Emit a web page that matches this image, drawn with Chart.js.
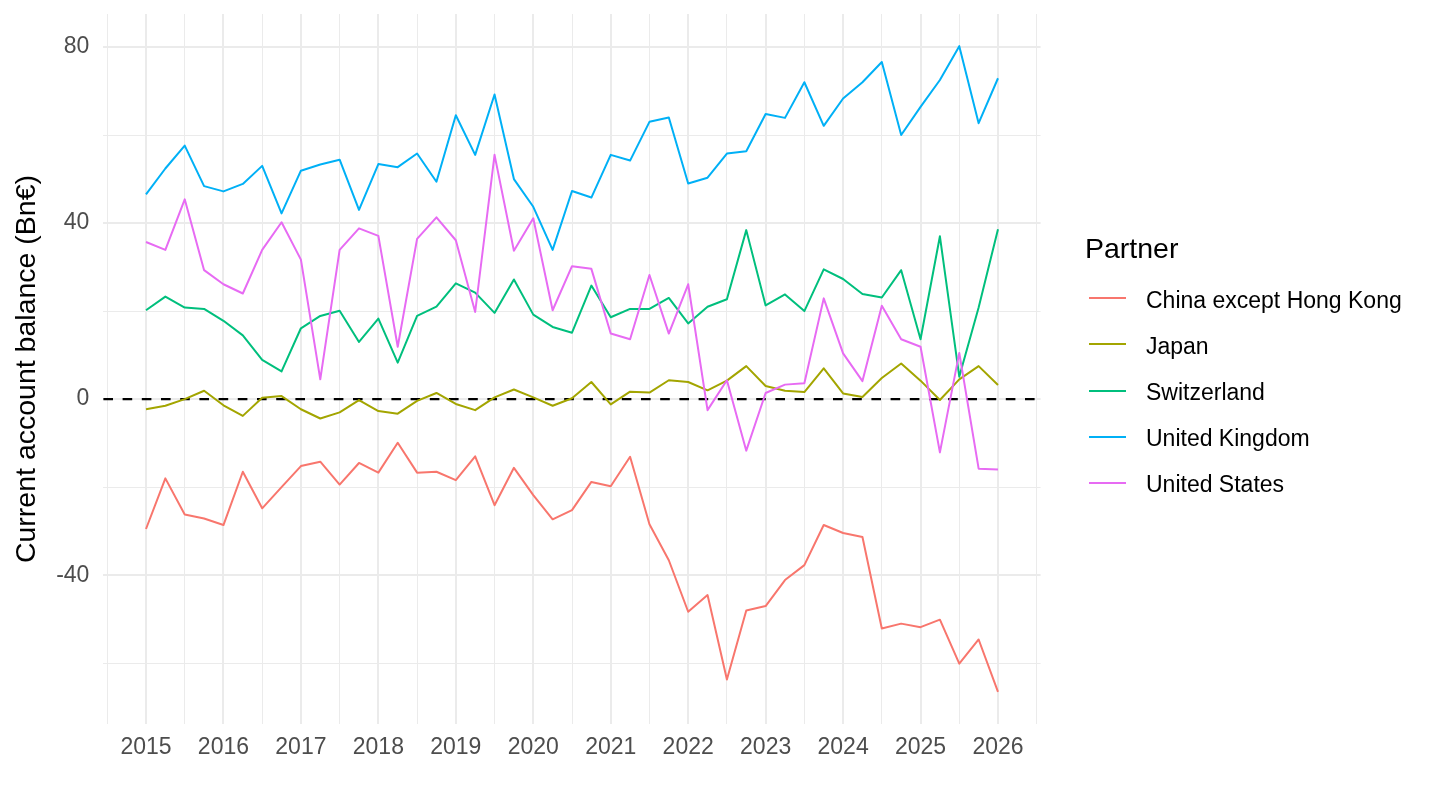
<!DOCTYPE html>
<html>
<head>
<meta charset="utf-8">
<title>Current account balance by partner</title>
<script src="https://cdn.jsdelivr.net/npm/chart.js@4.4.1/dist/chart.umd.min.js"></script>
<style>
  html, body { margin: 0; padding: 0; background: #fff; }
  #wrap { position: relative; width: 1440px; height: 810px; font-family: "Liberation Sans", Arial, sans-serif; }
  #chart { display: block; }
  .lg-title { position: absolute; left: 1085px; top: 234px; font-size: 28.5px; line-height: 1; color: #000; white-space: nowrap; }
  .lg-key { position: absolute; left: 1089px; width: 37px; height: 2px; }
  .lg-text { position: absolute; left: 1146px; font-size: 23px; line-height: 1; color: #000; white-space: nowrap; }
</style>
</head>
<body>
<div id="wrap">
  <canvas id="chart" width="1440" height="810"></canvas>
  <div id="legend"></div>
</div>
<script>
// quarterly dates as decimal years
const quarters = [
  2015.00, 2015.25, 2015.50, 2015.75, 2016.00, 2016.25, 2016.50, 2016.75,
  2017.00, 2017.25, 2017.50, 2017.75, 2018.00, 2018.25, 2018.50, 2018.75,
  2019.00, 2019.25, 2019.50, 2019.75, 2020.00, 2020.25, 2020.50, 2020.75,
  2021.00, 2021.25, 2021.50, 2021.75, 2022.00, 2022.25, 2022.50, 2022.75,
  2023.00, 2023.25, 2023.50, 2023.75, 2024.00, 2024.25, 2024.50, 2024.75,
  2025.00, 2025.25, 2025.50, 2025.75, 2026.00
];

const partners = ["China except Hong Kong", "Japan", "Switzerland", "United Kingdom", "United States"];
const colors = ["#F8766D", "#A3A500", "#00BF7D", "#00B0F6", "#E76BF3"];

// Bn€
const china = [-29.5, -18.0, -26.2, -27.1, -28.6, -16.5, -24.8, -20.0, -15.2, -14.2,
  -19.4, -14.5, -16.7, -9.9, -16.7, -16.5, -18.4, -13.0, -24.1, -15.6,
  -21.8, -27.3, -25.2, -18.8, -19.8, -13.1, -28.4, -36.6, -48.3, -44.5,
  -63.7, -48.0, -47.0, -41.1, -37.7, -28.6, -30.4, -31.3, -52.1, -51.0,
  -51.8, -50.1, -60.1, -54.6, -66.5];
const japan = [-2.3, -1.5, 0.0, 1.9, -1.4, -3.8, 0.3, 0.7, -2.3, -4.4,
  -3.0, -0.2, -2.7, -3.3, -0.4, 1.4, -1.1, -2.5, 0.4, 2.2,
  0.4, -1.5, 0.2, 3.9, -1.2, 1.7, 1.5, 4.3, 3.9, 2.0,
  4.2, 7.5, 3.0, 1.9, 1.6, 7.0, 1.3, 0.5, 4.8, 8.1,
  4.2, -0.2, 4.5, 7.5, 3.2];
const switzerland = [20.2, 23.3, 20.8, 20.5, 17.8, 14.5, 8.9, 6.3, 16.1, 18.9,
  20.1, 13.0, 18.3, 8.3, 18.9, 21.0, 26.3, 24.2, 19.6, 27.2,
  19.2, 16.4, 15.1, 25.8, 18.6, 20.5, 20.5, 23.0, 17.2, 21.0,
  22.7, 38.4, 21.3, 23.8, 20.0, 29.5, 27.3, 23.9, 23.1, 29.3,
  13.6, 37.0, 5.1, 20.8, 38.6];
const unitedKingdom = [46.5, 52.4, 57.6, 48.4, 47.2, 48.9, 53.0, 42.2, 51.9, 53.3,
  54.4, 43.0, 53.4, 52.7, 55.8, 49.4, 64.5, 55.5, 69.2, 50.0,
  43.7, 33.9, 47.3, 45.8, 55.5, 54.2, 63.0, 64.0, 49.0, 50.3,
  55.8, 56.3, 64.8, 63.9, 72.0, 62.1, 68.3, 72.0, 76.6, 60.0,
  66.4, 72.5, 80.2, 62.7, 72.9];
const unitedStates = [35.7, 33.9, 45.4, 29.3, 26.1, 24.0, 33.9, 40.2, 31.7, 4.5,
  33.9, 38.8, 37.1, 11.9, 36.4, 41.3, 36.1, 19.8, 55.5, 33.7,
  41.1, 20.2, 30.2, 29.6, 14.9, 13.6, 28.2, 14.9, 26.1, -2.5,
  4.3, -11.7, 1.4, 3.3, 3.6, 22.9, 10.4, 4.1, 21.2, 13.6,
  11.9, -12.1, 10.5, -15.8, -16.0];

const series = [china, japan, switzerland, unitedKingdom, unitedStates];

// axis breaks
const xBreaks = [2015, 2016, 2017, 2018, 2019, 2020, 2021, 2022, 2023, 2024, 2025, 2026];
const yBreaks = [-40, 0, 40, 80];
const yMinorBreaks = [-60, -20, 20, 60];

const xGrid = [];
xBreaks.forEach(y => { xGrid.push(y - 0.5); xGrid.push(y); });
xGrid.push(xBreaks[xBreaks.length - 1] + 0.5);
const yGrid = yMinorBreaks.concat(yBreaks).sort((a, b) => a - b);

const isMajorX = v => xBreaks.includes(v);
const isMajorY = v => yBreaks.includes(v);

Chart.defaults.font.family = '"Liberation Sans", Arial, sans-serif';

// dashed line at zero, drawn under the series
const zeroLine = {
  id: "zeroLine",
  beforeDatasetsDraw(chart) {
    const { ctx, chartArea, scales } = chart;
    const y = scales.y.getPixelForValue(0);
    ctx.save();
    ctx.strokeStyle = "#000";
    ctx.lineWidth = 2.4;
    ctx.setLineDash([9.6, 9.6]);
    ctx.beginPath();
    ctx.moveTo(chartArea.left, y);
    ctx.lineTo(chartArea.right, y);
    ctx.stroke();
    ctx.restore();
  }
};

// no extra room for label overflow, the panel is set by layout padding
function noOverflow(scale) {
  scale.paddingTop = 0;
  scale.paddingBottom = 0;
  scale.paddingLeft = 0;
  scale.paddingRight = 0;
}

const datasets = partners.map((name, i) => ({
  label: name,
  data: quarters.map((q, j) => ({ x: q, y: series[i][j] })),
  borderColor: colors[i],
  backgroundColor: colors[i],
  borderWidth: 2,
  borderJoinStyle: "round",
  pointRadius: 0,
  tension: 0,
  fill: false,
  order: partners.length - i
}));

new Chart(document.getElementById("chart"), {
  type: "line",
  data: { datasets: datasets },
  options: {
    responsive: false,
    animation: false,
    events: [],
    layout: { padding: { top: 14, right: 399.4, bottom: 0, left: 0 } },
    plugins: {
      legend: { display: false },
      tooltip: { enabled: false }
    },
    scales: {
      x: {
        type: "linear",
        min: 2014.45,
        max: 2026.55,
        afterBuildTicks: scale => { scale.ticks = xGrid.map(v => ({ value: v })); },
        afterFit: scale => { scale.height = 86; noOverflow(scale); },
        border: { display: false },
        grid: {
          color: "#EBEBEB",
          lineWidth: c => (c.tick && isMajorX(c.tick.value) ? 2 : 1),
          drawTicks: false,
          tickLength: 0
        },
        ticks: {
          autoSkip: false,
          maxRotation: 0,
          padding: 10,
          color: "#4D4D4D",
          font: { size: 23 },
          callback: v => (isMajorX(v) ? String(v) : "")
        }
      },
      y: {
        type: "linear",
        min: -73.8,
        max: 87.5,
        afterBuildTicks: scale => { scale.ticks = yGrid.map(v => ({ value: v })); },
        afterFit: scale => { scale.width = 103.4; noOverflow(scale); },
        border: { display: false },
        grid: {
          color: "#EBEBEB",
          lineWidth: c => (c.tick && isMajorY(c.tick.value) ? 2 : 1),
          drawTicks: false,
          tickLength: 0
        },
        ticks: {
          padding: 14,
          color: "#4D4D4D",
          font: { size: 23 },
          callback: v => (isMajorY(v) ? String(v) : "")
        },
        title: {
          display: true,
          text: "Current account balance (Bn€)",
          color: "#000",
          font: { size: 28.5 },
          padding: { top: 10.4, bottom: 0 }
        }
      }
    }
  },
  plugins: [zeroLine]
});

// legend as html
const legend = document.getElementById("legend");
const title = document.createElement("div");
title.className = "lg-title";
title.textContent = "Partner";
legend.appendChild(title);
partners.forEach((name, i) => {
  const keyY = 298.3 + i * 46.1;
  const key = document.createElement("div");
  key.className = "lg-key";
  key.style.top = (keyY - 1) + "px";
  key.style.background = colors[i];
  legend.appendChild(key);
  const txt = document.createElement("div");
  txt.className = "lg-text";
  txt.style.top = (keyY - 9.5) + "px";
  txt.textContent = name;
  legend.appendChild(txt);
});
</script>
</body>
</html>
